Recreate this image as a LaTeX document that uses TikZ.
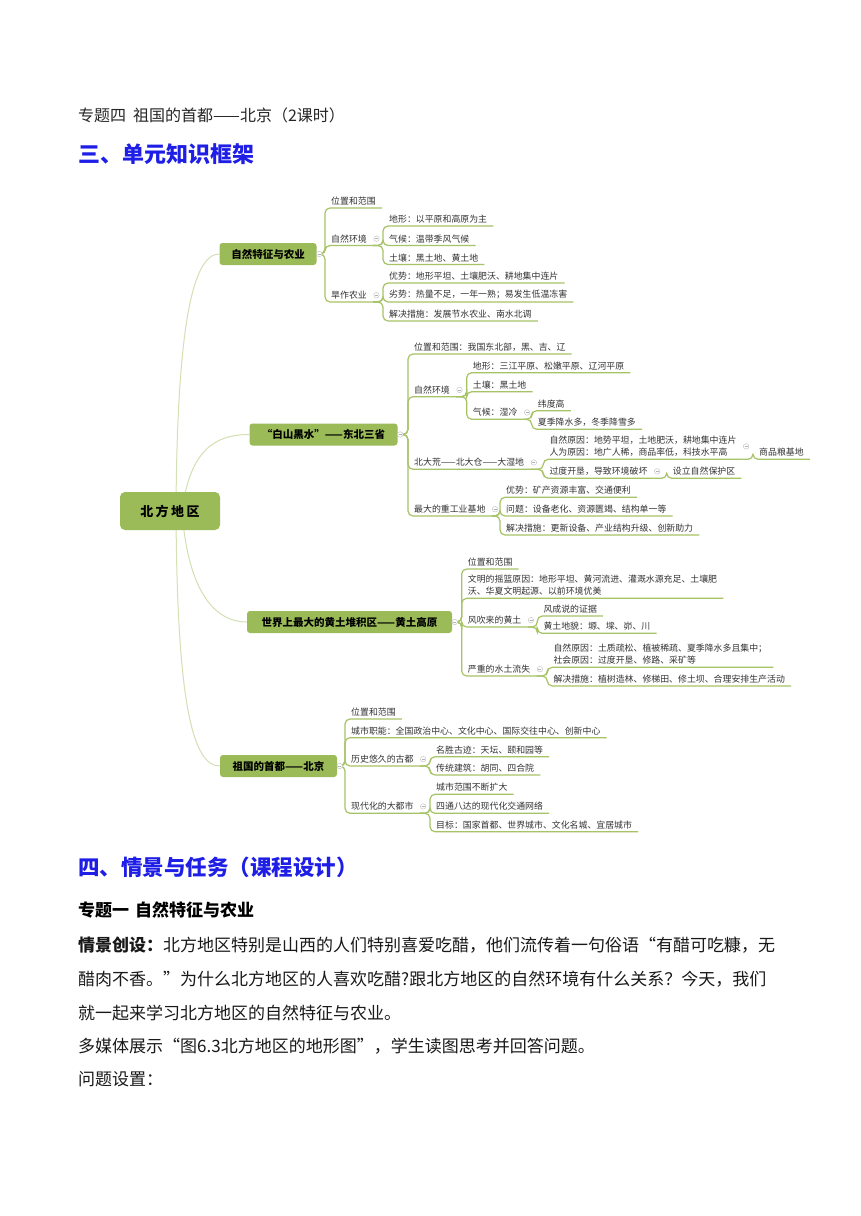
\documentclass[tikz,border=0pt]{standalone}
\usepackage{fontspec}
\setmainfont{Noto Sans CJK SC}
\usetikzlibrary{calc}
\definecolor{boxg}{HTML}{9BBB59}
\definecolor{lg}{HTML}{A6C366}
\definecolor{lgc}{HTML}{D3E0B4}
\definecolor{txt}{HTML}{333333}
\definecolor{hblue}{HTML}{1E1EE6}
\pgfdeclarelayer{bg}
\pgfdeclarelayer{paper}
\pgfsetlayers{paper,bg,main}
\newcommand\mmlink[2]{\draw[conn] (#1) -- (#1 -| #2.south west) -- (#2.south west) -- (#2.south east);}
\tikzset{
  leaf/.style={anchor=south west, inner xsep=6pt, inner ysep=2.5pt, font=\fontsize{8.9}{12}\selectfont, text=txt, align=left},
  conn/.style={draw=lg, line width=1.2pt, rounded corners=5pt},
  bbox/.style={fill=boxg, rounded corners=3pt, minimum height=22pt, inner sep=0pt, font=\bfseries\fontsize{10.5}{12}\selectfont, text=black},
  tog/.style={circle, draw=gray!45, fill=white, inner sep=0pt, minimum size=5.5pt, line width=0.5pt,
    path picture={\draw[gray!60,line width=0.4pt] ([xshift=-1.5pt]path picture bounding box.center) -- ([xshift=1.5pt]path picture bounding box.center);}},
  rootc/.style={draw=lgc, line width=1pt},
  bodytxt/.style={anchor=west, inner sep=0pt, font=\fontsize{17}{20}\selectfont, text=black!90},
}
\begin{document}
\begin{tikzpicture}[x=1pt,y=-1pt]
\useasboundingbox (0,0) rectangle (860,1216);
\begin{pgfonlayer}{paper}
\fill[white] (0,0) rectangle (860,1216);
\end{pgfonlayer}

% header texts
\node[anchor=west, inner sep=0pt, font=\fontsize{16}{18}\selectfont, text=black!85] (title) at (78,115) {专题四\hspace{7pt}祖国的首都——北京（2课时）};
\node[anchor=west, inner sep=0pt, font=\bfseries\fontsize{22}{24}\selectfont, text=hblue] (h3) at (78,154) {三、单元知识框架};

% root and branch boxes
\node[bbox, minimum width=100pt, minimum height=38pt, rounded corners=5pt, font=\bfseries\fontsize{13}{15}\selectfont] (root) at (170,511) {北\hspace{2.5pt}方\hspace{2.5pt}地\hspace{2.5pt}区};
\node[bbox, minimum width=97pt] (b1) at (268,254) {自然特征与农业};
\node[bbox, minimum width=148pt] (b2) at (323.5,434.5) {“白山黑水”——东北三省};
\node[bbox, minimum width=205pt] (b3) at (349.5,622) {世界上最大的黄土堆积区——黄土高原};
\node[bbox, minimum width=117pt] (b4) at (278.5,766) {祖国的首都——北京};

\begin{pgfonlayer}{bg}
\draw[rootc] ([xshift=6pt]root.center) .. controls (177,330) and (192,254) .. (b1.west);
\draw[rootc] ([xshift=12pt]root.center) .. controls (190,450) and (215,434.5) .. (b2.west);
\draw[rootc] ([xshift=12pt]root.center) .. controls (188,592) and (215,622) .. (b3.west);
\draw[rootc] ([xshift=6pt]root.center) .. controls (177,700) and (192,766) .. (b4.west);
\end{pgfonlayer}

% branch 1
\node[leaf] (n11) at (325,208) {位置和范围};
\node[leaf] (n12) at (325,245.5) {自然环境};
\node[leaf] (n13) at (325,302) {旱作农业};
\node[leaf] (n121) at (383,226) {地形：以平原和高原为主};
\node[leaf] (n122) at (383,245.5) {气候：温带季风气候};
\node[leaf] (n123) at (383,264.5) {土壤：黑土地、黄土地};
\node[leaf] (n131) at (383,283) {优势：地形平坦、土壤肥沃、耕地集中连片};
\node[leaf] (n132) at (383,302) {劣势：热量不足，一年一熟；易发生低温冻害};
\node[leaf] (n133) at (383,321) {解决措施：发展节水农业、南水北调};

% branch 2
\node[leaf] (n21) at (408,354) {位置和范围：我国东北部，黑、吉、辽};
\node[leaf] (n22) at (408,396.7) {自然环境};
\node[leaf] (n23) at (408,469.3) {北大荒——北大仓——大湿地};
\node[leaf] (n24) at (408,516) {最大的重工业基地};
\node[leaf] (n221) at (466.7,372.7) {地形：三江平原、松嫩平原、辽河平原};
\node[leaf] (n222) at (466.7,391.7) {土壤：黑土地};
\node[leaf] (n223) at (466.7,419.3) {气候：湿冷};
\node[leaf] (n2231) at (531.7,410.7) {纬度高};
\node[leaf] (n2232) at (531.7,429.3) {夏季降水多，冬季降雪多};
\node[leaf] (n231) at (543.3,459.3) {自然原因：地势平坦，土地肥沃，耕地集中连片\\人为原因：地广人稀，商品率低，科技水平高};
\node[leaf] (n232) at (543.3,478.3) {过度开垦，导致环境破坏};
\node[leaf] (n2311) at (753,459.3) {商品粮基地};
\node[leaf] (n2321) at (666.7,478.3) {设立自然保护区};
\node[leaf] (n241) at (500,497.3) {优势：矿产资源丰富、交通便利};
\node[leaf] (n242) at (500,516) {问题：设备老化、资源匮竭、结构单一等};
\node[leaf] (n243) at (500,535) {解决措施：更新设备、产业结构升级、创新助力};

% branch 3
\node[leaf] (n31) at (461.7,569) {位置和范围};
\node[leaf] (n32) at (461.7,598.3) {文明的摇篮原因：地形平坦、黄河流进、灌溉水源充足、土壤肥\\沃、华夏文明起源、以前环境优美};
\node[leaf] (n33) at (461.7,627) {风吹来的黄土};
\node[leaf] (n34) at (461.7,676) {严重的水土流失};
\node[leaf] (n331) at (537.3,616) {风成说的证据};
\node[leaf] (n332) at (537.3,633.3) {黄土地貌：塬、墚、峁、川};
\node[leaf] (n341) at (547.3,667.3) {自然原因：土质疏松、植被稀疏、夏季降水多且集中；\\社会原因：过度开垦、修路、采矿等};
\node[leaf] (n342) at (547.3,686) {解决措施：植树造林、修梯田、修土坝、合理安排生产活动};

% branch 4
\node[leaf] (n41) at (345,719) {位置和范围};
\node[leaf] (n42) at (345,737.7) {城市职能：全国政治中心、文化中心、国际交往中心、创新中心};
\node[leaf] (n43) at (345,766) {历史悠久的古都};
\node[leaf] (n44) at (345,813.3) {现代化的大都市};
\node[leaf] (n431) at (430,756.7) {名胜古迹：天坛、颐和园等};
\node[leaf] (n432) at (430,775) {传统建筑：胡同、四合院};
\node[leaf] (n441) at (430,794.3) {城市范围不断扩大};
\node[leaf] (n442) at (430,813.3) {四通八达的现代化交通网络};
\node[leaf] (n443) at (430,831.7) {目标：国家首都、世界城市、文化名城、宜居城市};

% connectors
\mmlink{b1.east}{n11}
\mmlink{b1.east}{n12}
\mmlink{b1.east}{n13}
\mmlink{n12.south east}{n121}
\mmlink{n12.south east}{n122}
\mmlink{n12.south east}{n123}
\mmlink{n13.south east}{n131}
\mmlink{n13.south east}{n132}
\mmlink{n13.south east}{n133}

\mmlink{b2.east}{n21}
\mmlink{b2.east}{n22}
\mmlink{b2.east}{n23}
\mmlink{b2.east}{n24}
\mmlink{n22.south east}{n221}
\mmlink{n22.south east}{n222}
\mmlink{n22.south east}{n223}
\mmlink{n223.south east}{n2231}
\mmlink{n223.south east}{n2232}
\mmlink{n23.south east}{n231}
\mmlink{n23.south east}{n232}
\mmlink{n231.south east}{n2311}
\mmlink{n232.south east}{n2321}
\mmlink{n24.south east}{n241}
\mmlink{n24.south east}{n242}
\mmlink{n24.south east}{n243}

\mmlink{b3.east}{n31}
\mmlink{b3.east}{n32}
\mmlink{b3.east}{n33}
\mmlink{b3.east}{n34}
\mmlink{n33.south east}{n331}
\mmlink{n33.south east}{n332}
\mmlink{n34.south east}{n341}
\mmlink{n34.south east}{n342}

\mmlink{b4.east}{n41}
\mmlink{b4.east}{n42}
\mmlink{b4.east}{n43}
\mmlink{b4.east}{n44}
\mmlink{n43.south east}{n431}
\mmlink{n43.south east}{n432}
\mmlink{n44.south east}{n441}
\mmlink{n44.south east}{n442}
\mmlink{n44.south east}{n443}

% toggles
\node[tog] (tb1) at ([xshift=2.5pt]b1.east) {};
\node[tog] (tb2) at ([xshift=2.5pt]b2.east) {};
\node[tog] (tb3) at ([xshift=2.5pt]b3.east) {};
\node[tog] (tb4) at ([xshift=2.5pt]b4.east) {};
\node[tog] (t12) at ([xshift=3.5pt]n12.east) {};
\node[tog] (t13) at ([xshift=3.5pt]n13.east) {};
\node[tog] (t22) at ([xshift=3.5pt]n22.east) {};
\node[tog] (t223) at ([xshift=3.5pt]n223.east) {};
\node[tog] (t23) at ([xshift=3.5pt]n23.east) {};
\node[tog] (t231) at ([xshift=3.5pt]n231.east) {};
\node[tog] (t232) at ([xshift=3.5pt]n232.east) {};
\node[tog] (t24) at ([xshift=3.5pt]n24.east) {};
\node[tog] (t33) at ([xshift=3.5pt]n33.east) {};
\node[tog] (t34) at ([xshift=3.5pt]n34.east) {};
\node[tog] (t43) at ([xshift=3.5pt]n43.east) {};
\node[tog] (t44) at ([xshift=3.5pt]n44.east) {};

% lower texts
\node[anchor=west, inner sep=0pt, font=\bfseries\fontsize{21.5}{24}\selectfont, text=hblue] (h4) at (78,867) {四、情景与任务（课程设计）};
\node[anchor=west, inner sep=0pt, font=\bfseries\fontsize{17}{20}\selectfont, text=black] (s1) at (78,910) {专题一\hspace{6pt}自然特征与农业};
\node[bodytxt] (p1) at (78,945) {\textbf{情景创设：}北方地区特别是山西的人们特别喜爱吃醋，他们流传着一句俗语“有醋可吃糠，无};
\node[bodytxt] (p2) at (78,979) {醋肉不香。”为什么北方地区的人喜欢吃醋?跟北方地区的自然环境有什么关系？今天，我们};
\node[bodytxt] (p3) at (78,1013) {就一起来学习北方地区的自然特征与农业。};
\node[bodytxt] (p4) at (78,1046) {多媒体展示“图6.3北方地区的地形图”，学生读图思考并回答问题。};
\node[bodytxt] (p5) at (78,1079) {问题设置：};
\end{tikzpicture}
\end{document}
